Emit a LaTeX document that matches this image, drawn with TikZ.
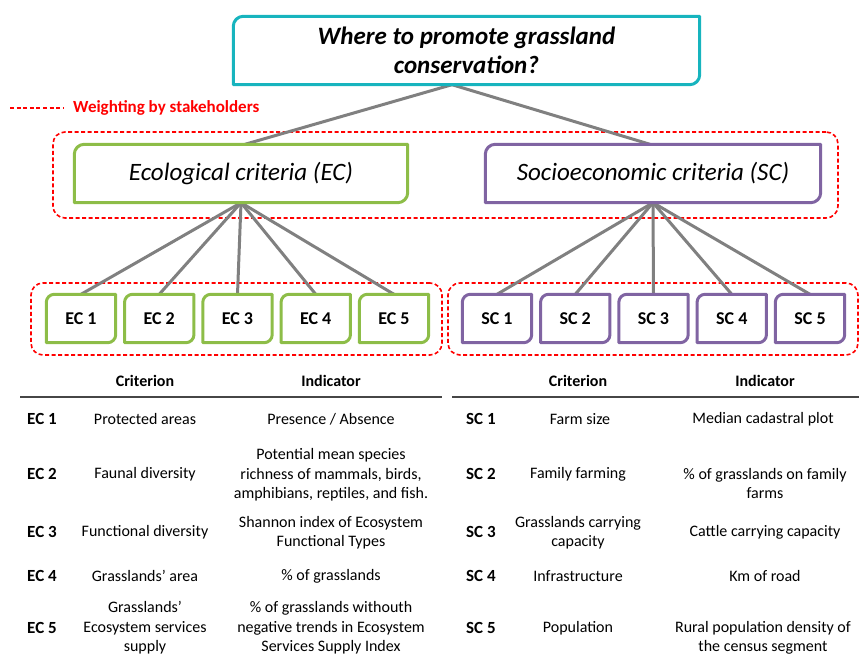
\documentclass[tikz,border=0pt]{standalone}
\usepackage{fontspec}
\setmainfont{Carlito}
\definecolor{cyanb}{RGB}{23,180,190}
\definecolor{greenb}{RGB}{141,189,72}
\definecolor{purpleb}{RGB}{128,100,162}
\definecolor{grayc}{RGB}{128,128,128}
\definecolor{redd}{RGB}{255,0,0}
\definecolor{rulec}{RGB}{70,70,70}
\newcommand\drbox[3]{\draw[line width=3pt,draw=#1,line join=round] (#2.south west) -- ([yshift=-#3]#2.north west) arc[start angle=180,end angle=90,radius=#3] -- (#2.north east) -- ([yshift=#3]#2.south east) arc[start angle=0,end angle=-90,radius=#3] -- cycle;}
\tikzset{
 boxn/.style={inner sep=0pt, align=center},
 tbl/.style={inner sep=0pt, align=center, font=\fontsize{16}{19.5}\selectfont},
 codet/.style={inner sep=0pt, anchor=west, font=\fontsize{17}{20}\selectfont\bfseries},
 hdr/.style={inner sep=0pt, font=\fontsize{16}{19.5}\selectfont\bfseries},
 conn/.style={draw=grayc, line width=3pt},
 grp/.style={draw=redd, line width=1.6pt, dash pattern=on 4pt off 2.5pt, rounded corners=12pt, inner sep=0pt},
 rulel/.style={draw=rulec, line width=1.5pt},
 small/.style={boxn, minimum width=69pt, minimum height=48pt, font=\fontsize{18}{20}\selectfont\bfseries},
 big/.style={boxn, minimum width=333pt, minimum height=58pt, font=\fontsize{25}{29}\selectfont\itshape},
}
\begin{document}
\begin{tikzpicture}[x=1pt,y=1pt]
\useasboundingbox (0,0) rectangle (859,657);
% groups
\node[grp, minimum width=785pt, minimum height=86pt] (g1) at (445.5,482) {};
\node[grp, minimum width=411pt, minimum height=72pt] (g2) at (236.5,338) {};
\node[grp, minimum width=410pt, minimum height=72pt] (g3) at (653,338) {};
% legend
\coordinate (l1) at (10,549);
\coordinate (l2) at (63,549);
\draw[draw=redd, line width=2pt, dash pattern=on 4pt off 2.6pt] (l1) -- (l2);
\node[inner sep=0pt, anchor=west, text=redd, font=\fontsize{17}{20}\selectfont\bfseries] (legend) at (73,549) {Weighting by stakeholders};
% main nodes
\node[boxn, minimum width=466pt, minimum height=68pt, font=\fontsize{25}{29}\selectfont\bfseries\itshape] (title) at (466.5,606.5) {Where to promote grassland\\conservation?};
\node[big] (ec) at (241,483.5) {Ecological criteria (EC)};
\node[big, minimum width=335pt] (sc) at (653,483.5) {Socioeconomic criteria (SC)};
\foreach \i/\x in {1/81,2/159.25,3/237.5,4/315.75,5/394}{
  \node[small] (e\i) at (\x,338.5) {EC \i};
}
\foreach \i/\x in {1/497,2/575.25,3/653.5,4/731.75,5/810}{
  \node[small] (s\i) at (\x,338.5) {SC \i};
}
% connectors
\coordinate (tapex) at ([xshift=-14.5pt]title.south);
\draw[conn] (tapex) -- ([xshift=4pt]ec.north);
\draw[conn] (tapex) -- ([xshift=-3pt]sc.north);
\foreach \i in {1,...,5}{
  \draw[conn] (ec.south) -- (e\i.north);
  \draw[conn] (sc.south) -- (s\i.north);
}
% box outlines
\drbox{cyanb}{title}{10pt}
\drbox{greenb}{ec}{10pt}
\drbox{purpleb}{sc}{10pt}
\foreach \i in {1,...,5}{
  \drbox{greenb}{e\i}{8pt}
  \drbox{purpleb}{s\i}{8pt}
}
% table rules
\coordinate (r1a) at (20,260);
\coordinate (r1b) at (442,260);
\coordinate (r2a) at (452,260);
\coordinate (r2b) at (859,260);
\draw[rulel] (r1a) -- (r1b);
\draw[rulel] (r2a) -- (r2b);
% left table
\node[hdr] (hc1) at (145,276) {Criterion};
\node[hdr] (hi1) at (331,276) {Indicator};
\node[codet] (c1) at (27,238) {EC 1};
\node[codet] (c2) at (27,183) {EC 2};
\node[codet] (c3) at (27,125) {EC 3};
\node[codet] (c4) at (27,81) {EC 4};
\node[codet] (c5) at (27,29) {EC 5};
\node[tbl] (cr1) at (145,238) {Protected areas};
\node[tbl] (cr2) at (145,183) {Faunal diversity};
\node[tbl] (cr3) at (145,125) {Functional diversity};
\node[tbl] (cr4) at (145,81) {Grasslands’ area};
\node[tbl] (cr5) at (145,29) {Grasslands’\\Ecosystem services\\supply};
\node[tbl] (in1) at (331,238) {Presence / Absence};
\node[tbl] (in2) at (331,182) {Potential mean species\\richness of mammals, birds,\\amphibians, reptiles, and fish.};
\node[tbl] (in3) at (331,124.5) {Shannon index of Ecosystem\\Functional Types};
\node[tbl] (in4) at (331,81) {\% of grasslands};
\node[tbl] (in5) at (331,29) {\% of grasslands withouth\\negative trends in Ecosystem\\Services Supply Index};
% right table
\node[hdr] (hc2) at (578,276) {Criterion};
\node[hdr] (hi2) at (765,276) {Indicator};
\node[codet] (d1) at (466,238) {SC 1};
\node[codet] (d2) at (466,183) {SC 2};
\node[codet] (d3) at (466,125) {SC 3};
\node[codet] (d4) at (466,81) {SC 4};
\node[codet] (d5) at (466,29) {SC 5};
\node[tbl] (dr1) at (580,238) {Farm size};
\node[tbl] (dr2) at (578,183) {Family farming};
\node[tbl] (dr3) at (578,124.5) {Grasslands carrying\\capacity};
\node[tbl] (dr4) at (578,81) {Infrastructure};
\node[tbl] (dr5) at (578,29) {Population};
\node[tbl] (jn1) at (763,238) {Median cadastral plot};
\node[tbl] (jn2) at (765,173.5) {\% of grasslands on family\\farms};
\node[tbl] (jn3) at (765,125) {Cattle carrying capacity};
\node[tbl] (jn4) at (765,81) {Km of road};
\node[tbl] (jn5) at (763,19) {Rural population density of\\the census segment};
\end{tikzpicture}
\end{document}
